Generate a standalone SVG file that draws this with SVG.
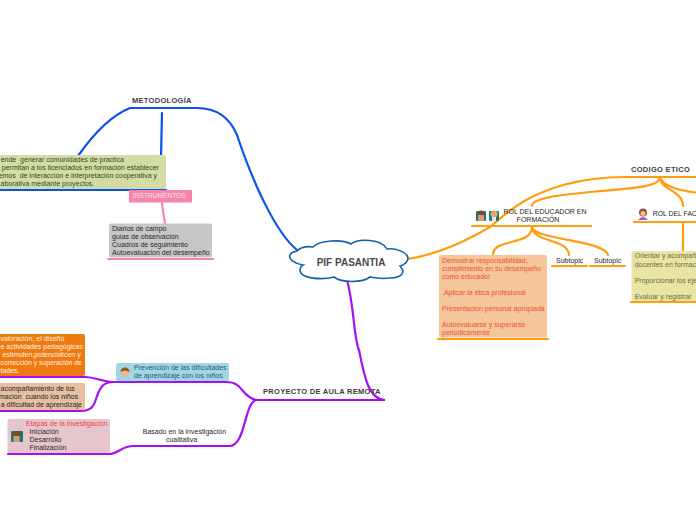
<svg xmlns="http://www.w3.org/2000/svg" width="696" height="520" viewBox="0 0 696 520">
<style>
text{font-family:"Liberation Sans",Arial,sans-serif;font-size:7px;fill:#262626;white-space:pre}
.b{font-weight:700;font-size:7.5px;fill:#3c3c3c;letter-spacing:.3px}
.bl{fill:none;stroke:#0a50f5;stroke-width:2.2;stroke-linecap:round}
.or{fill:none;stroke:#ff9d0f;stroke-width:2.2;stroke-linecap:round}
.pu{fill:none;stroke:#a50ff5;stroke-width:2.2;stroke-linecap:round}
.pk{fill:none;stroke:#f585b0;stroke-width:2.2;stroke-linecap:round}
.g{fill:#2f4a2a}.r{fill:#f0502a}.o{fill:#fff2e0}.ol{fill:#6a6a4a}.t{fill:#2a5a72}
</style>
<g id="connectors">
<path class="bl" d="M297 250C275 232 252 180 237 135C229 116 215 108 197 108H130C110 116 92 136 78 156"/>
<path class="bl" d="M162 113L161 157"/>
<path class="bl" d="M0 190H166"/>
<path class="pk" d="M162 203C163 213 164 217 165 224"/>
<path class="pk" d="M108 259H213"/>
<path class="or" d="M408 259C440 254 468 240 490 227C515 205 530 195 563 185C585 179 605 177 625 177H696"/>
<path class="or" d="M660 177C660 186 640 188 590 192C560 195 532 198 532 206"/>
<path class="or" d="M660 177C660 190 683 190 683 206M660 177C662 186 680 191 696 192.500"/>
<path class="or" d="M472 226H591M634 222H696M683 222V251"/>
<path class="or" d="M532 227C532 246 494 238 493 254M532 227C533 243 568 238 569 255M532 227C534 240 604 240 608 255"/>
<path class="or" d="M438 339H548M552 266H587M590 266H625M631 302H696"/>
<path class="pu" d="M347 280C354 305 354 340 359 350C364 375 368 399 385 400H256"/>
<path class="pu" d="M256 400C240 396 244 382 226 382H113C103 382 100 388 97 396C94 406 92 411 80 411H0"/>
<path class="pu" d="M113 382C103 382 95 377 85 377H0"/>
<path class="pu" d="M256 400C244 403 246 446 229 446H134C120 446 120 454 108 454H8"/>
</g>
<g id="root">
<path d="M297 251C301 247 307 246 313 247C320 240 342 239 351 244C358 238 382 239 387 249C396 248 407 252 408 258C408 262 404 265 400 266C406 272 402 278 390 278C383 279 375 278 370 277C362 283 342 283 334 277C322 280 302 279 300 271C300 268 301 266 303 265C295 264 288 259 290 255C291 252 294 252 297 251Z" fill="#fff" stroke="#0f62ad" stroke-width="1.6"/>
<text x="351" y="265.700" text-anchor="middle" style="font-size:10px;font-weight:700;fill:#4a4a4a">PIF PASANTIA</text>
</g>
<g id="metodologia"><text class="b" x="132" y="103">METODOLOGÍA</text></g>
<g id="comprende">
<rect x="-8" y="155" width="174" height="34" rx="2" fill="#d3dda3"/>
<text class="g" text-anchor="end" x="124" y="162">ende  generar comunidades de practica</text>
<text class="g" text-anchor="end" x="159" y="170">permitan a los licenciados en formación establecer</text>
<text class="g" text-anchor="end" x="157" y="178">emos  de interacción e interpretación cooperativa y</text>
<text class="g" x="0.500" y="186">aborativa mediante proyectos.</text>
</g>
<g id="instrumentos">
<rect x="129" y="190" width="63" height="12.500" rx="1" fill="#f584ae"/>
<text x="133" y="198" style="fill:#fbe3ec;font-size:6.600px">INSTRUMENTOS</text>
</g>
<g id="diarios">
<rect x="109" y="223.500" width="103" height="34" rx="2" fill="#c6c6c6"/>
<text x="112" y="231">Diarios de campo</text>
<text x="112" y="239">guías de observación</text>
<text x="112" y="247">Cuadros de seguimiento</text>
<text x="112" y="255">Autoevaluacion del desempeño</text>
</g>
<g id="codigo"><text class="b" x="631" y="171.700">CODIGO ETICO</text></g>
<g id="rol-educador">
<rect x="476" y="211" width="10" height="10" rx="1" fill="#1c7a6e"/><circle cx="481" cy="214" r="3.500" fill="#7a4a2a"/><rect x="478" y="215" width="6" height="6" fill="#caa07a"/>
<rect x="489" y="211" width="10" height="10" rx="1" fill="#1c7a6e"/><circle cx="494" cy="214" r="3.500" fill="#d8ab78"/><rect x="492" y="217" width="4" height="4" fill="#dfe8ee"/>
<text x="545" y="214" text-anchor="middle">ROL DEL EDUCADOR EN</text>
<text x="538" y="221.700" text-anchor="middle">FORMACIÓN</text>
</g>
<g id="rol-fac">
<circle cx="643" cy="212.500" r="4" fill="#8a5a3a"/><circle cx="643" cy="213.500" r="2.500" fill="#f0c09a"/><path d="M638 220q5-6 10 0z" fill="#a05ac0"/>
<text x="652.700" y="215.700" style="font-size:6.900px">ROL DEL FAC</text>
</g>
<g id="demostrar">
<rect x="439" y="255" width="108" height="82.500" rx="2" fill="#f5c69b"/>
<text class="r" x="442" y="262.500">Demostrar responsabilidad,</text>
<text class="r" x="442" y="270.700">cumplimiento en su desempeño</text>
<text class="r" x="442" y="278.700">como educador</text>
<text class="r" x="442" y="294.700">.Aplicar la ética profesional</text>
<text class="r" x="442" y="310.700">Presentación personal apropiada</text>
<text class="r" x="442" y="326.700">Autoevaluarse y superarse</text>
<text class="r" x="442" y="334.700">periodicamente</text>
</g>
<g id="subtopic1"><text x="556" y="262.700">Subtopic</text></g>
<g id="subtopic2"><text x="594" y="262.700">Subtopic</text></g>
<g id="orientar">
<rect x="631.500" y="251" width="70" height="50" rx="2" fill="#e8e5a2"/>
<text class="ol" x="634.700" y="258.300">Orientar y acompañ</text>
<text class="ol" x="634.700" y="266.500">docentes en formac</text>
<text class="ol" x="634.700" y="282.500">Proporcionar los eje</text>
<text class="ol" x="634.700" y="298.500">Evaluar y registrar</text>
</g>
<g id="proyecto"><text class="b" x="263" y="394">PROYECTO DE AULA REMOTA</text></g>
<g id="prevencion">
<rect x="116" y="363" width="113" height="18" rx="2" fill="#a0d6e6"/>
<circle cx="125" cy="372" r="4.500" fill="#f0b890"/><path d="M120.500 372a4.500 4.500 0 0 1 9 0q-4.500-3-9 0z" fill="#8a5a2a"/>
<text class="t" x="134" y="369.500">Prevención de las dificultades</text>
<text class="t" x="134" y="377.500">de aprendizaje con los niños</text>
</g>
<g id="valoracion">
<rect x="-6" y="334" width="91" height="42" rx="2" fill="#f07a10"/>
<text class="o" x="0.500" y="341">valoración, el diseño</text>
<text class="o" x="0.500" y="349">e actividades pedagógicas</text>
<text class="o" x="0.500" y="357"> estimulen,potencialicen y</text>
<text class="o" x="0.500" y="365" style="font-size:6.800px">corrección y superación de</text>
<text class="o" x="0.500" y="373">tades.</text>
</g>
<g id="acompanamiento">
<rect x="-6" y="383" width="91" height="27" rx="2" fill="#e5bfa0"/>
<text x="0.500" y="390.500">acompañamiento de los</text>
<text text-anchor="end" x="78" y="398.500">mación  cuando los niños</text>
<text text-anchor="end" x="82" y="406.500">a dificultad de aprendizaje</text>
</g>
<g id="etapas">
<rect x="7.500" y="419" width="102.500" height="34" rx="2" fill="#e6c6cb"/>
<rect x="11" y="431" width="12" height="11" rx="1" fill="#1c7a6e"/><circle cx="16.500" cy="435" r="4" fill="#7a4a2a"/><rect x="13.500" y="436" width="6" height="6" fill="#caa07a"/>
<text x="26" y="426" style="fill:#f0404a">Etapas de la investigación</text>
<text x="29.500" y="433.700">Iniciación</text>
<text x="29.500" y="441.700">Desarrollo</text>
<text x="29.500" y="449.700">Finalización</text>
</g>
<g id="basado">
<text x="184.400" y="433.700" text-anchor="middle">Basado en la investigación</text>
<text x="181.500" y="441.700" text-anchor="middle">cualitativa</text>
</g>
</svg>
